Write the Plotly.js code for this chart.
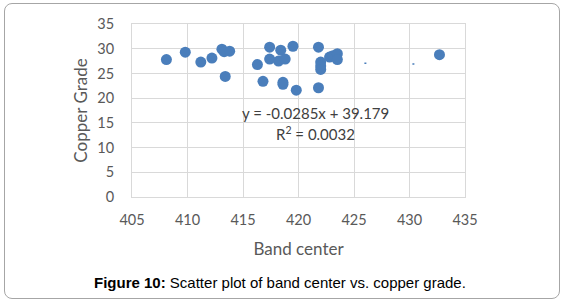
<!DOCTYPE html>
<html>
<head>
<meta charset="utf-8">
<script src="https://cdn.plot.ly/plotly-3.0.1.min.js"></script>
<style>
  html, body { margin: 0; padding: 0; background: #ffffff; }
  #wrap { position: relative; width: 564px; height: 303px; }
  #frame { position: absolute; left: 4px; top: 3px; width: 554px; height: 294px;
           border: 1.5px solid #a6a6a6; border-radius: 8px; box-sizing: content-box; }
  #chart { position: absolute; left: 0; top: 0; width: 564px; height: 303px; }
</style>
</head>
<body>
<div id="wrap">
  <div id="frame"></div>
  <div id="chart"></div>
</div>
<script>
// Band center (x) and copper grade (y)
const bandCenter = [408.1, 409.8, 411.2, 412.2, 413.1, 413.3, 413.8, 413.4, 416.3, 416.8,
                    417.4, 417.4, 418.2, 418.4, 418.8, 418.6, 418.6, 419.5, 419.8, 421.8,
                    421.8, 422.0, 422.0, 422.0, 422.8, 423.1, 423.5, 423.5, 432.7];
const copperGrade = [27.8, 29.3, 27.3, 28.1, 29.9, 29.4, 29.5, 24.4, 26.8, 23.4,
                     30.3, 27.9, 27.5, 29.7, 27.9, 23.2, 22.8, 30.5, 21.6, 30.3,
                     22.1, 27.3, 26.5, 25.8, 28.3, 28.6, 29.0, 27.8, 28.8];
// Linear trendline from the equation shown
const slope = -0.0285;
const intercept = 39.179;
const xTicks = [405, 410, 415, 420, 425, 430, 435];
const yTicks = [0, 5, 10, 15, 20, 25, 30, 35];

const xMin = Math.min(...bandCenter), xMax = Math.max(...bandCenter);
const trendX = [xMin, xMax];
const trendY = trendX.map(v => slope * v + intercept);

const tickFont = { family: 'Lato, "Open Sans", sans-serif', size: 14.5, color: '#595959' };
const titleFont = { family: 'Lato, "Open Sans", sans-serif', size: 17, color: '#595959' };

const traces = [
  {
    x: trendX, y: trendY, type: 'scatter', mode: 'lines',
    line: { color: '#4a7ebb', width: 1.5, dash: '0px,150px,2px,46px,2px,46px,2px,300px' },
    hoverinfo: 'skip', showlegend: false
  },
  {
    x: bandCenter, y: copperGrade, type: 'scatter', mode: 'markers',
    marker: { color: '#4a7ebb', size: 11, symbol: 'circle' },
    showlegend: false
  }
];

const layout = {
  width: 564, height: 303,
  margin: { l: 132, r: 99, t: 24, b: 106 },
  paper_bgcolor: 'rgba(0,0,0,0)',
  plot_bgcolor: '#ffffff',
  showlegend: false,
  xaxis: {
    range: [405, 435], tickvals: xTicks, ticktext: xTicks.map(String),
    showgrid: true, gridcolor: '#d9d9d9', gridwidth: 1,
    showline: true, linecolor: '#d9d9d9', linewidth: 1, mirror: true,
    zeroline: false, ticks: '', tickfont: tickFont, ticklabelstandoff: 10,
    title: { text: 'Band center', font: titleFont, standoff: 15 }
  },
  yaxis: {
    range: [0, 35], tickvals: yTicks, ticktext: yTicks.map(String),
    showgrid: true, gridcolor: '#d9d9d9', gridwidth: 1,
    showline: true, linecolor: '#d9d9d9', linewidth: 1, mirror: true,
    zeroline: false, ticks: '', tickfont: tickFont, ticklabelstandoff: 14,
    title: { text: 'Copper Grade', font: titleFont, standoff: 5 }
  },
  annotations: [
    {
      x: 421.5, y: 17.0, xref: 'x', yref: 'y', showarrow: false,
      text: 'y = -0.0285x + 39.179',
      font: { family: 'Lato, "Open Sans", sans-serif', size: 15, color: '#404040' }
    },
    {
      x: 421.5, y: 12.8, xref: 'x', yref: 'y', showarrow: false,
      text: 'R<sup>2</sup> = 0.0032',
      font: { family: 'Lato, "Open Sans", sans-serif', size: 15, color: '#404040' }
    },
    {
      x: 0.444, y: -0.492, xref: 'paper', yref: 'paper', showarrow: false,
      xanchor: 'center', yanchor: 'middle',
      text: '<b>Figure 10:</b> Scatter plot of band center vs. copper grade.',
      font: { family: '"Liberation Sans", Arial, sans-serif', size: 15, color: '#000000' }
    }
  ]
};

Plotly.newPlot('chart', traces, layout, { displayModeBar: false, staticPlot: true });
</script>
</body>
</html>
